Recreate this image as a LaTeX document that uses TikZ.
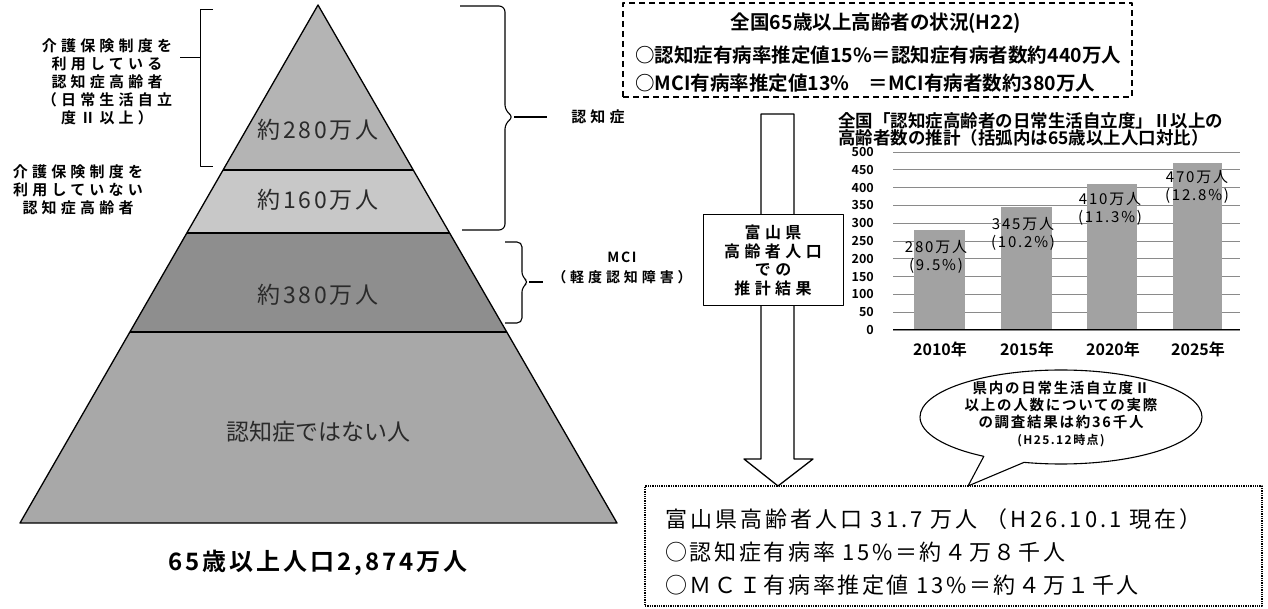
\documentclass[tikz,border=0pt]{standalone}
\usepackage{fontspec}
\usetikzlibrary{shapes.callouts,calc}
\newfontfamily\jp{Noto Sans CJK JP}[BoldFont={Noto Sans CJK JP Bold}]
\newfontfamily\jpwide{Noto Sans CJK JP}[BoldFont={Noto Sans CJK JP Bold},LetterSpace=28]
\newfontfamily\jpmid{Noto Sans CJK JP}[BoldFont={Noto Sans CJK JP Bold},LetterSpace=12]
\newfontfamily\jpbot{Noto Sans CJK JP}[LetterSpace=14]
\newcommand\fsz[2]{\fontsize{#1}{#2}\selectfont}
\definecolor{layA}{HTML}{B4B4B4}
\definecolor{layB}{HTML}{C8C8C8}
\definecolor{layC}{HTML}{8E8E8E}
\definecolor{layD}{HTML}{A8A8A8}
\definecolor{barc}{HTML}{A2A2A2}
\definecolor{gridc}{HTML}{8A8A8A}
\definecolor{ptxt}{HTML}{2A2A2A}
\begin{document}
\begin{tikzpicture}[x=1pt,y=-1pt,line join=round,
  sidelbl/.style={font=\jpwide\bfseries\fsz{15}{18}, align=center, inner sep=0},
  pyrlbl/.style={font=\jp\fsz{23}{23}, text=ptxt, inner sep=0},
  pyrnum/.style={font=\jpmid\fsz{23}{23}, text=ptxt, inner sep=0},
  topline/.style={font=\jp\bfseries\fsz{19.5}{19.5}, inner sep=0},
  ctitle/.style={font=\jp\bfseries\fsz{17.5}{17.5}, inner sep=0, anchor=west},
  ytick/.style={font=\jp\bfseries\fsz{12.5}{12.5}, inner sep=0, anchor=east},
  barlbl/.style={font=\jpmid\fsz{15}{18}, align=center, inner sep=0},
  xlbl/.style={font=\jp\bfseries\fsz{16}{16}, inner sep=0},
  botline/.style={font=\jpmid\fsz{22}{22}, inner sep=0, anchor=west},
  bracec/.style={line width=1.1pt, rounded corners=6pt}]
\useasboundingbox (0,0) rectangle (1268,609);
\fill[white] (0,0) rectangle (1268,609);

% ---------------- pyramid ----------------
\coordinate (apex) at (318,5);
\coordinate (bl) at (20,523);
\coordinate (br) at (617,523);
\coordinate (l1) at ($(apex)!0.3185!(bl)$);
\coordinate (r1) at ($(apex)!0.3185!(br)$);
\coordinate (l2) at ($(apex)!0.4402!(bl)$);
\coordinate (r2) at ($(apex)!0.4402!(br)$);
\coordinate (l3) at ($(apex)!0.6313!(bl)$);
\coordinate (r3) at ($(apex)!0.6313!(br)$);
\fill[layA] (apex) -- (r1) -- (l1) -- cycle;
\fill[layB] (l1) -- (r1) -- (r2) -- (l2) -- cycle;
\fill[layC] (l2) -- (r2) -- (r3) -- (l3) -- cycle;
\fill[layD] (l3) -- (r3) -- (br) -- (bl) -- cycle;
\draw[line width=1.3pt] (apex) -- (br) -- (bl) -- cycle;
\draw[line width=1.1pt] (l1) -- (r1);
\draw[line width=1.1pt] (l2) -- (r2);
\draw[line width=1.1pt] (l3) -- (r3);

\node[pyrnum] (p280) at (318,130) {約280万人};
\node[pyrnum] (p160) at (318,200) {約160万人};
\node[pyrnum] (p380) at (318,295) {約380万人};
\node[pyrlbl] (pnot) at (318,432) {認知症ではない人};
\node[font=\jpmid\bfseries\fsz{24}{24}, inner sep=0] (total) at (318,563) {65歳以上人口2,874万人};

% ---------------- left labels & braces ----------------
\node[sidelbl] (use) at (107,82) {介護保険制度を\\利用している\\認知症高齢者\\（日常生活自立\\度Ⅱ以上）};
\node[sidelbl] (nouse) at (78,190) {介護保険制度を\\利用していない\\認知症高齢者};
\draw[line width=1pt] (213,10) -- (200,10) -- (200,167) -- (213,167);
\coordinate (b1m) at (200,58);
\coordinate (b1s) at (180,58);
\draw[line width=1pt] (b1s) -- (b1m);

\draw[bracec] (460,6) -- (505,6) -- (505,111) -- (514,117) -- (505,123) -- (505,230) -- (462,230);
\coordinate (b2m) at (514,117);
\node[font=\jpwide\bfseries\fsz{15}{15}, inner sep=0] (dem) at (598,117) {認知症};
\coordinate (b2e) at (547,117);
\draw[line width=1.1pt] (b2m) -- (b2e);

\draw[bracec, rounded corners=5pt] (505,242) -- (522,242) -- (522,277) -- (529,282) -- (522,287) -- (522,323) -- (505,323);
\coordinate (b3m) at (529,282);
\coordinate (b3e) at (543,282);
\draw[line width=1.1pt] (b3m) -- (b3e);
\node[font=\jpwide\bfseries\fsz{14}{20}, align=center, inner sep=0] (mci) at (622,268) {{\jpmid MCI}\\（軽度認知障害）};

% ---------------- top dashed box ----------------
\node[draw, line width=1.4pt, dash pattern=on 6pt off 4pt, minimum width=509, minimum height=94, inner sep=0] (natl) at (877.5,50) {};
\node[topline] (natl1) at (876,23) {全国65歳以上高齢者の状況(H22)};
\node[topline, anchor=west] (natl2) at (635,55) {○認知症有病率推定値15\%＝認知症有病者数約440万人};
\node[topline, anchor=west] (natl3) at (635,83) {○MCI有病率推定値13\%　＝MCI有病者数約380万人};

% ---------------- block arrow ----------------
\draw[fill=white, line width=1.3pt] (761,114) -- (794,114) -- (794,459) -- (813,459) -- (778,486) -- (744,459) -- (761,459) -- cycle;
\node[draw, fill=white, line width=1pt, minimum width=140, minimum height=91, inner sep=0, align=center, font=\jpwide\bfseries\fsz{16}{18.7}] (pref) at (773,260.5) {富山県\\高齢者人口\\での\\推計結果};

% ---------------- chart ----------------
\node[ctitle] (ct1) at (838,121) {全国「認知症高齢者の日常生活自立度」Ⅱ以上の};
\node[ctitle] (ct2) at (838,138) {高齢者数の推計（括弧内は65歳以上人口対比）};
\foreach \v in {0,50,...,500} {
  \draw[gridc, line width=0.9pt] (893,{330-\v*0.356}) -- (1240,{330-\v*0.356});
  \node[ytick] at (874,{330-\v*0.356}) {\v};
}
\fill[barc] (914,330) rectangle (965,230.3);
\fill[barc] (1001,330) rectangle (1052,207.2);
\fill[barc] (1087,330) rectangle (1137,184.0);
\fill[barc] (1173,330) rectangle (1222,162.7);
\draw[line width=1pt] (893,330) -- (1240,330);
\node[barlbl] (v1) at (936,257) {280万人\\(9.5\%)};
\node[barlbl] (v2) at (1023,234) {345万人\\(10.2\%)};
\node[barlbl] (v3) at (1110,209) {410万人\\(11.3\%)};
\node[barlbl] (v4) at (1197,187) {470万人\\(12.8\%)};
\node[xlbl] at (940,349) {2010年};
\node[xlbl] at (1027,349) {2015年};
\node[xlbl] at (1113,349) {2020年};
\node[xlbl] at (1198,349) {2025年};

% ---------------- bottom box ----------------
\node[draw, line width=1.3pt, densely dotted, minimum width=617, minimum height=120, inner sep=0] (toyama) at (953.5,546) {};
\node[botline, font=\jpbot\fsz{22}{22}] (bt1) at (665,519) {富山県高齢者人口 31.7 万人 （H26.10.1 現在）};
\node[botline] (bt2) at (665,552) {○認知症有病率 15\%＝約４万８千人};
\node[botline] (bt3) at (665,585) {○ＭＣＩ有病率推定値 13\%＝約４万１千人};

% ---------------- callout ----------------
\coordinate (ctip) at (968,486);
\node[ellipse callout, draw, fill=white, line width=1.1pt, minimum width=282, minimum height=94, inner sep=0,
      callout absolute pointer={(ctip)}, callout pointer arc=18] (call) at (1061,417) {};
\node[font=\jpmid\bfseries\fsz{14.5}{17}, align=center, inner sep=0] (calltxt) at (1061,414)
  {県内の日常生活自立度Ⅱ\\以上の人数についての実際\\の調査結果は約36千人\\{\fsz{12}{12}(H25.12時点)}};
\end{tikzpicture}
\end{document}
